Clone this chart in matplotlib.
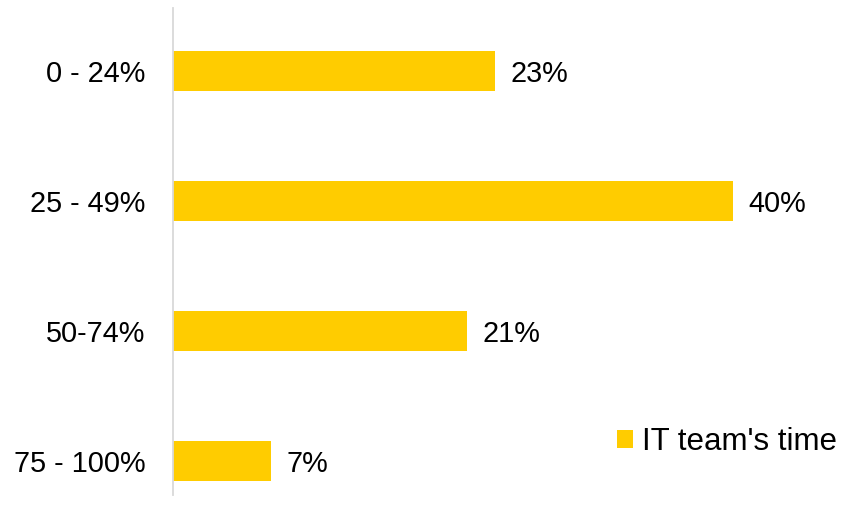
import matplotlib.pyplot as plt

# data
categories = ["0 - 24%", "25 - 49%", "50-74%", "75 - 100%"]
values = [23, 40, 21, 7]
series_name = "IT team's time"

plt.rcParams["font.family"] = ["Liberation Sans", "DejaVu Sans"]

W, H = 841, 523
fig = plt.figure(figsize=(W / 100, H / 100), dpi=100)
ax = fig.add_axes([173 / W, (H - 495) / H, 658 / W, 487 / H])

bars = ax.barh(range(len(categories)), values, height=0.31,
               color="#FFCC00", label=series_name)
labels = ax.bar_label(bars, labels=[f"{v}%" for v in values], padding=11,
                      fontsize=20.8, color="#000000")
for t in labels:
    t.set_va("center_baseline")

ax.set_xlim(0, 47)
ax.set_ylim(3.26, -0.485)
ax.set_yticks(range(len(categories)))
ax.set_yticklabels(categories, fontsize=20.8)
ax.tick_params(axis="y", length=0, pad=20)
ax.set_xticks([])

for side in ["top", "right", "bottom"]:
    ax.spines[side].set_visible(False)
ax.spines["left"].set_color("#D9D9D9")
ax.spines["left"].set_linewidth(1.3)

ax.legend(loc="center left", bbox_to_anchor=(617 / W, (H - 442) / H),
          bbox_transform=fig.transFigure, frameon=False, fontsize=22.5,
          handlelength=0.5, handleheight=0.5, handletextpad=0.3,
          borderpad=0, borderaxespad=0)

fig.savefig("out.png", dpi=100)
